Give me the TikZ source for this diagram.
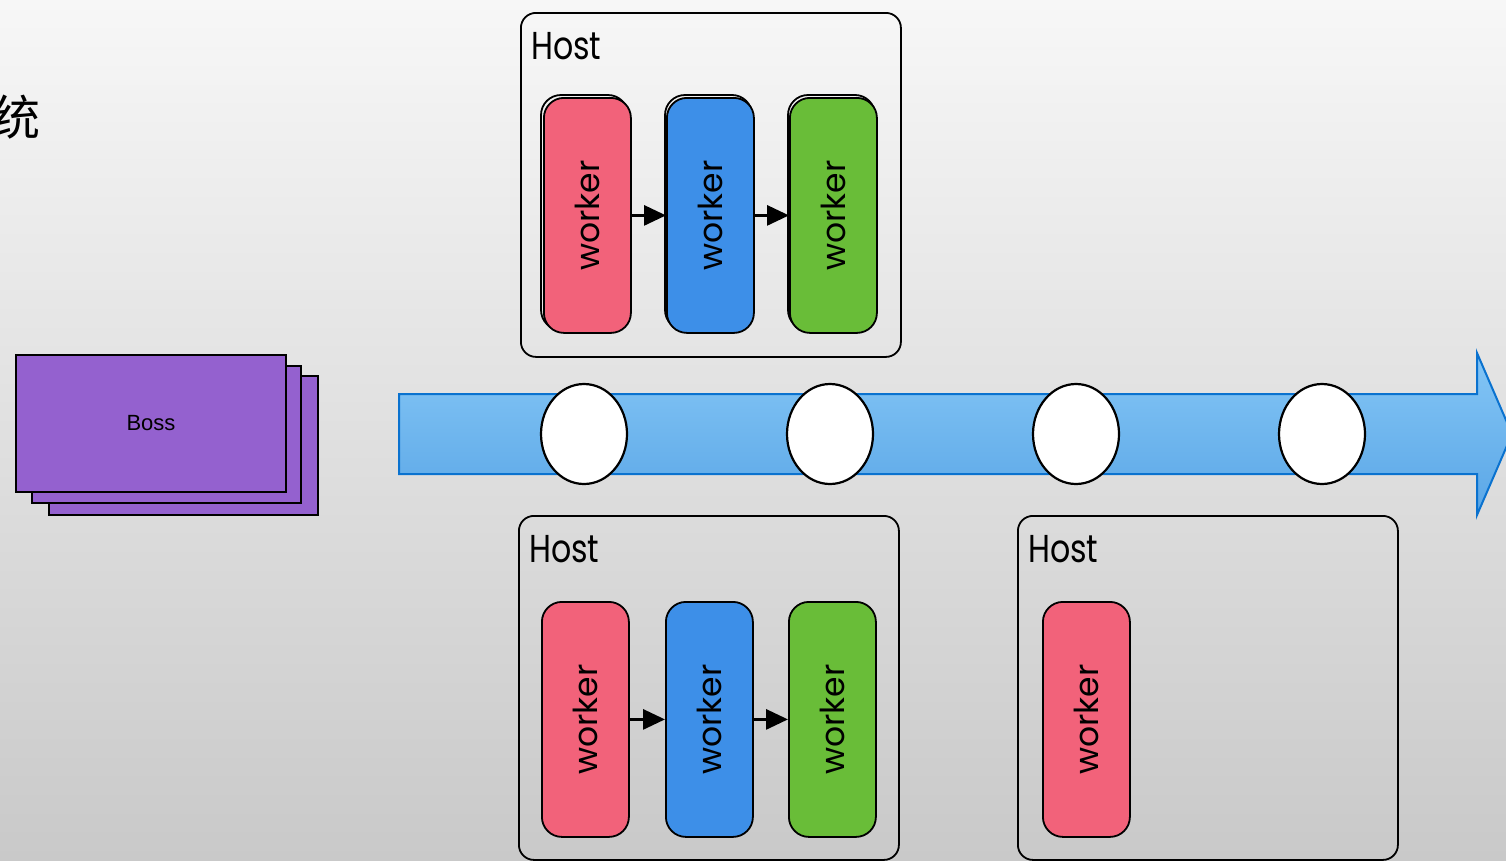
\documentclass[tikz,border=0pt]{standalone}
\usepackage{fontspec}
\usepackage{graphicx}
\setmainfont{Poppins}
\newfontfamily\bossfont{Liberation Sans}
\newfontfamily\cjkfont{Noto Sans CJK SC}
\usetikzlibrary{arrows.meta,shapes.geometric}

\definecolor{bgtop}{HTML}{F7F7F7}
\definecolor{bgmid}{HTML}{E6E6E6}
\definecolor{bgbot}{HTML}{C9C9C9}
\definecolor{wred}{HTML}{F2627A}
\definecolor{wblue}{HTML}{3D8FE8}
\definecolor{wgreen}{HTML}{69BD38}
\definecolor{bossfill}{HTML}{9461CF}
\definecolor{pipetop}{HTML}{84C6F6}
\definecolor{pipebot}{HTML}{5AA6E6}
\definecolor{pipeedge}{HTML}{0A72CF}

\newcommand{\hostword}{\scalebox{0.88}[1.08]{Host}}
\newcommand{\workerword}{\rotatebox{90}{worker}}

\tikzset{
  hostbox/.style={draw=black, line width=1.8pt, rounded corners=15pt,
    minimum width=380pt, minimum height=344pt, anchor=north west, inner sep=0pt},
  hostlabel/.style={anchor=north west, inner sep=0pt, font=\fontsize{36}{36}\selectfont},
  workerbox/.style={draw=black, line width=1.8pt, rounded corners=20pt,
    minimum width=87pt, minimum height=235pt, anchor=north west, inner sep=0pt,
    font=\fontsize{33}{33}\selectfont},
  flow/.style={line width=3pt, -{Triangle[length=22pt,width=20pt]}},
  slot/.style={ellipse, draw=black, line width=2.2pt, fill=white,
    minimum width=86pt, minimum height=100pt, inner sep=0pt},
  bosscard/.style={draw=black, line width=2pt, fill=bossfill}
}

\begin{document}
\begin{tikzpicture}[x=1pt,y=-1pt]
\useasboundingbox (0,0) rectangle (1506,860);
\clip (0,0) rectangle (1506,860);

% backdrop
\shade[top color=bgtop, middle color=bgmid, bottom color=bgbot] (0,0) rectangle (1506,860);

% heading glyph, partly off the left edge
\node[font=\cjkfont\fontsize{48}{48}\selectfont, inner sep=0pt] (title) at (17,117) {统};

% stacked boss cards
\draw[bosscard] (49,376) rectangle (318,515);
\draw[bosscard] (32,366) rectangle (301,503);
\node[bosscard, minimum width=270pt, minimum height=137pt, anchor=north west,
  font=\bossfont\fontsize{22}{22}\selectfont] (boss) at (15,354) {Boss};

% the pipeline arrow
\shade[top color=pipetop, bottom color=pipebot, draw=pipeedge, line width=2pt]
  (399,394) -- (1477,394) -- (1477,353) -- (1512,434) -- (1477,515)
  -- (1477,474) -- (399,474) -- cycle;

% slots on the pipeline
\node[slot] (s1) at (584,434) {};
\node[slot] (s2) at (830,434) {};
\node[slot] (s3) at (1076,434) {};
\node[slot] (s4) at (1322,434) {};

% upper host
\node[hostbox] (hostA) at (520,12) {};
\node[hostlabel] (hostAlabel) at (531,32) {\hostword};
\draw[line width=1.8pt, rounded corners=20pt] (541,95) rectangle (628,330);
\draw[line width=1.8pt, rounded corners=20pt] (665,95) rectangle (752,330);
\draw[line width=1.8pt, rounded corners=20pt] (788,95) rectangle (875,330);
\node[workerbox, fill=wred]   (a1) at (543,97)  {\workerword};
\node[workerbox, fill=wblue]  (a2) at (666,97)  {\workerword};
\node[workerbox, fill=wgreen] (a3) at (789,97)  {\workerword};
\draw[flow] (a1.east) -- (a2.west);
\draw[flow] (a2.east) -- (a3.west);

% lower left host
\node[hostbox] (hostB) at (518,515) {};
\node[hostlabel] (hostBlabel) at (529,535) {\hostword};
\node[workerbox, fill=wred]   (b1) at (541,601) {\workerword};
\node[workerbox, fill=wblue]  (b2) at (665,601) {\workerword};
\node[workerbox, fill=wgreen] (b3) at (788,601) {\workerword};
\draw[flow] (b1.east) -- (b2.west);
\draw[flow] (b2.east) -- (b3.west);

% lower right host
\node[hostbox] (hostC) at (1017,515) {};
\node[hostlabel] (hostClabel) at (1028,535) {\hostword};
\node[workerbox, fill=wred]   (c1) at (1042,601) {\workerword};
\end{tikzpicture}
\end{document}
